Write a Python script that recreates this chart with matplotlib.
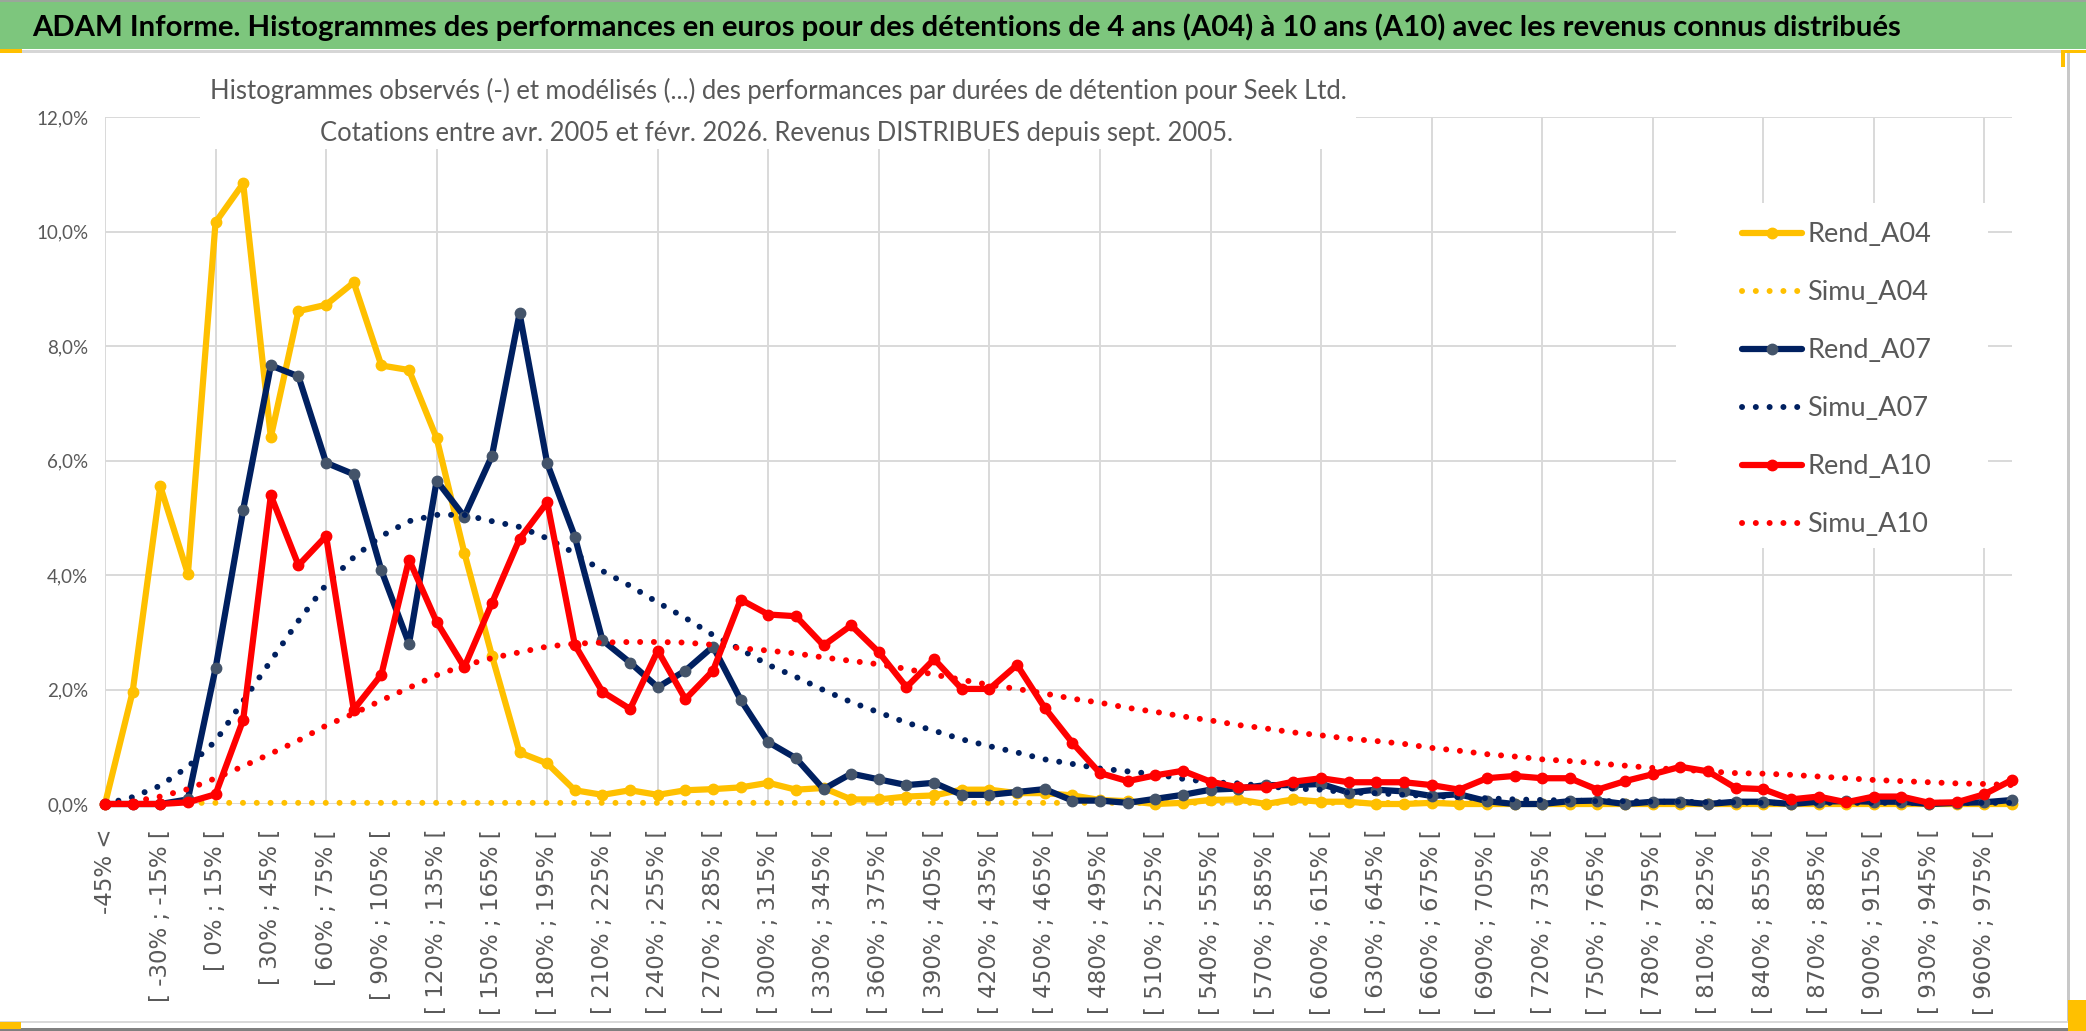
import matplotlib
matplotlib.use("Agg")
import matplotlib.pyplot as plt
from matplotlib.patches import Rectangle

W, H = 2086, 1031
GREY_TXT = "#595959"
GRID = "#D9D9D9"
CALI = ["Lato", "DejaVu Sans"]

# categories: first bin is open, then 15% wide bins
bin_starts = [-45 + 15 * k for k in range(69)]
categories = ["-45% <"] + [f"[ {a}% ; {a + 15}% [" for a in bin_starts]

y_ticks = [0, 2, 4, 6, 8, 10, 12]
y_labels = ["0,0%", "2,0%", "4,0%", "6,0%", "8,0%", "10,0%", "12,0%"]

rend_a04 = [0.00, 1.96, 5.55, 4.02, 10.16, 10.84, 6.41, 8.61, 8.72, 9.11,
            7.66, 7.58, 6.39, 4.39, 2.59, 0.90, 0.71, 0.24, 0.16, 0.24,
            0.16, 0.24, 0.26, 0.29, 0.37, 0.25, 0.28, 0.08, 0.08, 0.13,
            0.15, 0.25, 0.25, 0.19, 0.19, 0.15, 0.07, 0.05, 0.00, 0.02,
            0.07, 0.08, 0.00, 0.08, 0.04, 0.04, 0.00, 0.00, 0.02, 0.00,
            0.00, 0.00, 0.00, 0.00, 0.00, 0.00, 0.00, 0.00, 0.00, 0.00,
            0.00, 0.00, 0.00, 0.00, 0.00, 0.00, 0.00, 0.00, 0.00, 0.00]

simu_a04 = [0.00, 0.00, 0.01, 0.02, 0.02, 0.02, 0.02, 0.02, 0.02, 0.02,
            0.02, 0.02, 0.02, 0.02, 0.02, 0.02, 0.02, 0.02, 0.02, 0.02,
            0.02, 0.02, 0.02, 0.02, 0.02, 0.02, 0.02, 0.02, 0.02, 0.02,
            0.02, 0.02, 0.02, 0.02, 0.02, 0.02, 0.02, 0.02, 0.02, 0.02,
            0.02, 0.02, 0.02, 0.02, 0.02, 0.02, 0.02, 0.02, 0.02, 0.02,
            0.02, 0.02, 0.02, 0.02, 0.02, 0.02, 0.02, 0.02, 0.02, 0.02,
            0.02, 0.02, 0.02, 0.02, 0.02, 0.02, 0.02, 0.02, 0.02, 0.02]

rend_a07 = [0.00, 0.00, 0.00, 0.08, 2.37, 5.14, 7.66, 7.47, 5.96, 5.76,
            4.08, 2.80, 5.65, 5.02, 6.08, 8.57, 5.95, 4.67, 2.86, 2.47,
            2.04, 2.33, 2.75, 1.82, 1.08, 0.80, 0.26, 0.53, 0.43, 0.33,
            0.37, 0.16, 0.16, 0.21, 0.26, 0.06, 0.06, 0.02, 0.09, 0.16,
            0.25, 0.27, 0.33, 0.33, 0.35, 0.20, 0.25, 0.22, 0.14, 0.17,
            0.05, 0.00, 0.00, 0.05, 0.06, 0.00, 0.04, 0.04, 0.00, 0.04,
            0.04, 0.00, 0.04, 0.05, 0.04, 0.04, 0.00, 0.02, 0.03, 0.07]

simu_a07 = [0.00, 0.12, 0.32, 0.65, 1.10, 1.80, 2.50, 3.20, 3.83, 4.31,
            4.68, 4.94, 5.05, 5.05, 4.94, 4.84, 4.64, 4.38, 4.07, 3.81,
            3.52, 3.25, 2.95, 2.70, 2.43, 2.22, 1.99, 1.78, 1.60, 1.42,
            1.28, 1.13, 1.01, 0.90, 0.78, 0.70, 0.62, 0.57, 0.52, 0.44,
            0.38, 0.36, 0.31, 0.27, 0.25, 0.20, 0.19, 0.16, 0.14, 0.12,
            0.10, 0.08, 0.07, 0.06, 0.05, 0.05, 0.04, 0.04, 0.03, 0.03,
            0.02, 0.02, 0.02, 0.02, 0.02, 0.02, 0.02, 0.02, 0.02, 0.02]

rend_a10 = [0.00, 0.00, 0.00, 0.03, 0.17, 1.47, 5.39, 4.17, 4.68, 1.65,
            2.26, 4.27, 3.18, 2.39, 3.51, 4.63, 5.27, 2.78, 1.96, 1.66,
            2.68, 1.83, 2.33, 3.57, 3.31, 3.28, 2.77, 3.12, 2.65, 2.04,
            2.53, 2.01, 2.01, 2.43, 1.68, 1.07, 0.54, 0.40, 0.50, 0.58,
            0.39, 0.29, 0.29, 0.39, 0.45, 0.38, 0.38, 0.38, 0.33, 0.25,
            0.45, 0.49, 0.45, 0.45, 0.25, 0.40, 0.52, 0.65, 0.57, 0.28,
            0.26, 0.08, 0.13, 0.03, 0.13, 0.13, 0.02, 0.03, 0.17, 0.42]

simu_a10 = [0.00, 0.04, 0.13, 0.26, 0.45, 0.66, 0.88, 1.11, 1.37, 1.58,
            1.81, 2.03, 2.25, 2.42, 2.55, 2.65, 2.75, 2.80, 2.82, 2.83,
            2.83, 2.82, 2.78, 2.72, 2.68, 2.63, 2.56, 2.50, 2.44, 2.36,
            2.26, 2.17, 2.08, 2.01, 1.93, 1.84, 1.77, 1.68, 1.61, 1.53,
            1.46, 1.38, 1.32, 1.25, 1.20, 1.14, 1.10, 1.05, 0.98, 0.93,
            0.87, 0.83, 0.78, 0.75, 0.71, 0.67, 0.63, 0.60, 0.57, 0.54,
            0.53, 0.51, 0.48, 0.45, 0.42, 0.40, 0.38, 0.36, 0.35, 0.33]

series = [
    ("Rend_A04", rend_a04, "#FFC000", "#FFC000", True),
    ("Simu_A04", simu_a04, "#FFC000", None, False),
    ("Rend_A07", rend_a07, "#002060", "#44546A", True),
    ("Simu_A07", simu_a07, "#002060", None, False),
    ("Rend_A10", rend_a10, "#FF0000", "#FF0000", True),
    ("Simu_A10", simu_a10, "#FF0000", None, False),
]


def rect(x0, y0, x1, y1, color, z=1):
    fig.add_artist(Rectangle((x0 / W, 1 - y1 / H), (x1 - x0) / W, (y1 - y0) / H,
                             transform=fig.transFigure, facecolor=color,
                             edgecolor="none", zorder=z))


def fit_width(txt, target):
    r = fig.canvas.get_renderer()
    w = txt.get_window_extent(renderer=r).width
    txt.set_fontsize(txt.get_fontsize() * target / w)


fig = plt.figure(figsize=(W / 100, H / 100), dpi=100)
fig.patch.set_facecolor("white")
ax = fig.add_axes([105 / W, 1 - 804 / H, (2012 - 105) / W, (804 - 117) / H])

x = list(range(len(categories)))
handles = []
for z, (name, vals, col, mcol, solid) in enumerate(series):
    if solid:
        ln, = ax.plot(x, vals, color=col, lw=4.5, marker="o", ms=7.5,
                      mfc=mcol, mec=mcol, solid_capstyle="round",
                      solid_joinstyle="round", clip_on=False, zorder=3 + z,
                      label=name)
    else:
        ln, = ax.plot(x, vals, color=col, lw=4.3, linestyle=(0, (0.01, 2.3)),
                      dash_capstyle="round", clip_on=False, zorder=3 + z,
                      label=name)
    handles.append(ln)

ax.set_xlim(0, len(categories) - 1)
ax.set_ylim(0, 12)
for s in ax.spines.values():
    s.set_visible(False)

ax.set_xticks(x[::2])
ax.set_xticklabels(categories[::2], rotation=90, fontfamily="DejaVu Sans",
                   fontsize=16.5, color=GREY_TXT)
ax.xaxis.remove_overlapping_locs = False
ax.set_xticks(x[::4], minor=True)
ax.tick_params(axis="x", which="both", length=0, pad=18)
ax.set_yticks(y_ticks)
ax.set_yticklabels(y_labels, fontfamily=CALI, fontsize=13.5, color=GREY_TXT)
ax.tick_params(axis="y", length=0, pad=12)
ax.grid(axis="x", which="minor", color=GRID, lw=1.4)
ax.grid(axis="y", which="major", color=GRID, lw=1.4)
ax.set_axisbelow(True)

# frame, banner and white boxes
rect(0, 0, W, 49, "#7DC67D")
rect(0, 0, W, 2, "#9AA79A")
rect(0, 50, W, 53, "#D6D6D6")
rect(2067, 53, 2070, 1022, "#C8C8C8")
rect(0, 1021, 2070, 1023, "#D9D9D9")
rect(0, 1028, W, 1031, "#808080")
rect(0, 49, 22, 53, "#FFC000", 2)
rect(0, 1022, 21, 1029, "#FFC000", 2)
rect(2061, 50, W, 53, "#FFC000", 2)
rect(2061, 50, 2065, 67, "#FFC000", 2)
rect(2068, 1000, W, 1031, "#FFC000", 2)
rect(200, 62, 1356, 149, "white")
rect(1676, 203, 1988, 548, "white")

title = fig.text(967 / W, 1 - 27 / H,
                 "ADAM Informe. Histogrammes des performances en euros pour des "
                 "détentions de 4 ans (A04) à 10 ans (A10) avec les revenus "
                 "connus distribués",
                 ha="center", va="center", fontsize=22, fontweight="bold",
                 color="black", family=CALI)
sub1 = fig.text(778 / W, 1 - 91 / H,
                "Histogrammes observés (-) et modélisés (...) des performances "
                "par durées de détention pour Seek Ltd.",
                ha="center", va="center", fontsize=16, color=GREY_TXT,
                family=CALI)
sub2 = fig.text(776 / W, 1 - 134 / H,
                "Cotations entre avr. 2005 et févr. 2026. Revenus DISTRIBUES "
                "depuis sept. 2005.",
                ha="center", va="center", fontsize=16, color=GREY_TXT,
                family=CALI)
fit_width(title, 1868)
fit_width(sub1, 1143)
sub2.set_fontsize(sub1.get_fontsize())

fig.legend(handles, [h.get_label() for h in handles], loc="upper left",
           bbox_to_anchor=(1742 / W, 1 - 222 / H), frameon=False,
           borderpad=0, borderaxespad=0, handlelength=2.2, handletextpad=0.2,
           labelspacing=1.22, numpoints=1,
           prop={"family": CALI, "size": 19.5}, labelcolor=GREY_TXT)

fig.savefig("out.png", dpi=100)
